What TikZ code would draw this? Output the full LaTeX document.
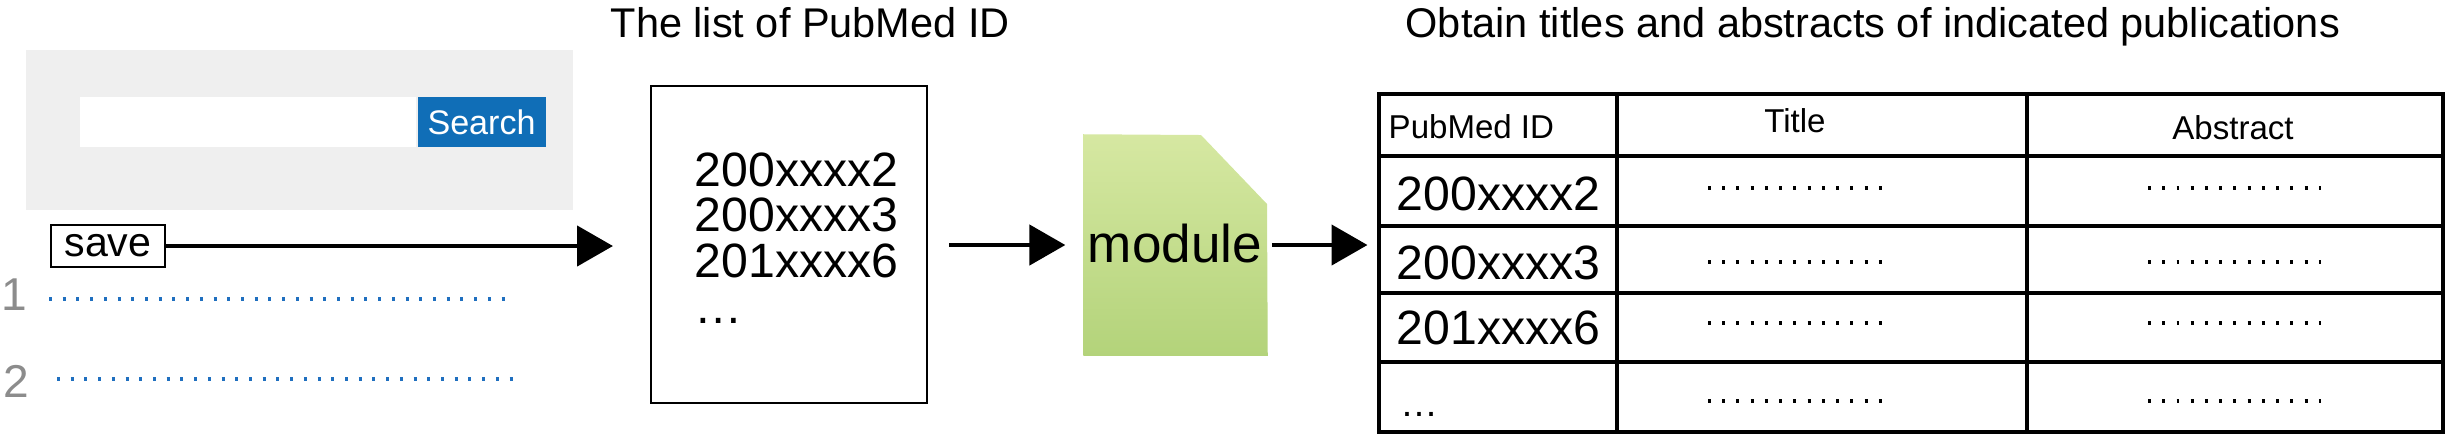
\documentclass[tikz,border=0pt]{standalone}
\usepackage{fontspec}
\setmainfont{Liberation Sans}
\usetikzlibrary{arrows.meta,positioning}

\definecolor{panelgray}{HTML}{EFEFEF}
\definecolor{searchblue}{HTML}{106EB7}
\definecolor{dotblue}{HTML}{1F6FBF}
\definecolor{numgray}{HTML}{8C8C8C}
\definecolor{modtop}{HTML}{D6E8A2}
\definecolor{modbot}{HTML}{B3D37A}

\begin{document}
\begin{tikzpicture}[x=0.01cm, y=-0.01cm,
    arr/.style={line width=1.15pt, -{Triangle[length=10.2pt, width=11.4pt]}},
    titletext/.style={inner sep=0pt, anchor=base west, font=\fontsize{11.8pt}{14pt}\selectfont},
    idtext/.style={inner sep=0pt, anchor=base west, font=\fontsize{13.7pt}{16pt}\selectfont},
    celltext/.style={inner sep=0pt, anchor=base, font=\fontsize{9.4pt}{11pt}\selectfont},
    bluedots/.style={dotblue, line width=1.1pt, dash pattern=on .85pt off 3.05pt},
    celldots/.style={line width=.9pt, dash pattern=on .85pt off 3.2pt},
    grid/.style={line width=1.2pt}]

    \useasboundingbox (0,0) rectangle (2447,435);

    % search page
    \node (panel) [fill=panelgray, minimum width=5.47cm, minimum height=1.6cm] at (299.5,130) {};
    \node (field) [fill=white, minimum width=3.36cm, minimum height=0.5cm] at (248,122) {};
    \node (search) [fill=searchblue, text=white, inner sep=0pt, minimum width=1.28cm, minimum height=0.5cm,
        font=\fontsize{9.7pt}{11pt}\selectfont, right=0pt of field] {Search};
    \node (save) [draw, line width=.5pt, inner sep=0pt, minimum width=1.14cm, minimum height=0.42cm,
        font=\fontsize{11.7pt}{14pt}\selectfont] at (108,246) {save};

    \node (n1) [inner sep=0pt, anchor=base west, text=numgray, font=\fontsize{13.1pt}{15pt}\selectfont] at (1,310) {1};
    \node (n2) [inner sep=0pt, anchor=base west, text=numgray, font=\fontsize{13.1pt}{15pt}\selectfont] at (3,397) {2};
    \draw[bluedots] (49,299) -- (514,299);
    \draw[bluedots] (57,379) -- (521,379);

    % list of ids
    \node (title1) [titletext] at (610,37) {The list of PubMed ID};
    \node (list) [draw, line width=.6pt, minimum width=2.76cm, minimum height=3.17cm] at (789,244.5) {};
    \foreach \id [count=\i] in {200xxxx2,200xxxx3,201xxxx6,…}
        \node (l\i) [idtext] at (694,140.3+45.7*\i) {\id};

    % module
    \node (module) [minimum width=1.83cm, minimum height=2.2cm] at (1175.5,245) {};
    \shade[top color=modtop, bottom color=modbot] (module.north west) -- (1201,135) -- (1267,204)
        -- (module.south east) -- (module.south west) -- cycle;
    \node (modtext) [inner sep=0pt, anchor=base, font=\fontsize{15.1pt}{18pt}\selectfont] at (1175,262) {module};

    % result table
    \node (title2) [titletext] at (1405,37) {Obtain titles and abstracts of indicated publications};
    \node (table) [draw, grid, minimum width=10.64cm, minimum height=3.38cm] at (1911,263) {};
    \draw[grid] (1617,94) -- (1617,432);
    \draw[grid] (2027,94) -- (2027,432);
    \foreach \y in {156,226,293,362}
        \draw[grid] (1379,\y) -- (2443,\y);

    \node (h1) [celltext, anchor=base west] at (1388,138) {PubMed ID};
    \node (h2) [celltext] at (1795,132) {Title};
    \node (h3) [celltext] at (2233,139) {Abstract};

    \node (r1) [idtext] at (1396,210) {200xxxx2};
    \node (r2) [idtext] at (1396,279) {200xxxx3};
    \node (r3) [idtext] at (1396,344) {201xxxx6};
    \node (r4) [idtext, font=\fontsize{10.8pt}{13pt}\selectfont] at (1400,416) {…};

    \foreach \y in {188,262,323,401} {
        \draw[celldots] (1708,\y) -- (1883,\y);
        \draw[celldots] (2148,\y) -- (2321,\y);
    }

    % arrows
    \draw[arr, shorten >=10.5pt] (save.east) -- (save.east -| list.west);
    \draw[arr, shorten <=6pt, shorten >=5.1pt] (list.east |- module) -- (module.west);
    \draw[arr, shorten <=1.2pt, shorten >=2.6pt] (module.east) -- (module.east -| table.west);

\end{tikzpicture}
\end{document}
